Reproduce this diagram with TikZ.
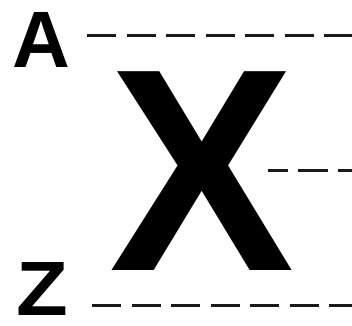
\documentclass[tikz,border=0pt]{standalone}
\usepackage{fontspec}
\setmainfont{Liberation Sans}
\begin{document}
\begin{tikzpicture}[x=1pt,y=-1pt,
  letter/.style={inner sep=0pt,anchor=base,text=black,text depth=0pt,text height=0.72em},
  guide/.style={draw=black!90,line width=3pt,dash pattern=on 29pt off 10.5pt}]
\useasboundingbox (0,0) rectangle (352,325);
\node[letter,font=\bfseries\fontsize{80}{80}\selectfont] (A) at (41.5,67) {A};
\node[letter,font=\bfseries\fontsize{289}{289}\selectfont,xscale=0.96] (X) at (202,270) {X};
\node[letter,font=\bfseries\fontsize{77}{77}\selectfont,xscale=1.1] (Z) at (42.5,315) {Z};
\coordinate (a1) at (87,35);
\coordinate (a2) at (352,35);
\coordinate (x1) at (268,170);
\coordinate (x2) at (352,170);
\coordinate (z1) at (92,305);
\coordinate (z2) at (352,305);
\draw[guide] (a1) -- (a2);
\draw[guide,dash pattern=on 30pt off 10pt,dash phase=10pt] (x1) -- (x2);
\draw[guide] (z1) -- (z2);
\end{tikzpicture}
\end{document}
